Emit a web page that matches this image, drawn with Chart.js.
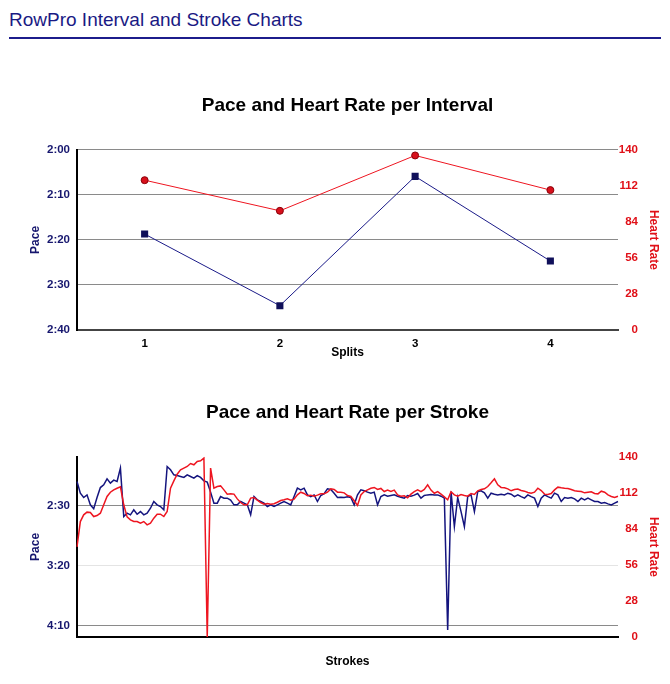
<!DOCTYPE html>
<html>
<head>
<meta charset="utf-8">
<script src="https://cdn.jsdelivr.net/npm/chart.js@4.4.0/dist/chart.umd.min.js"></script>
<style>
  body { margin: 0; background: #fff; width: 670px; height: 684px; overflow: hidden; position: relative;
         font-family: "Liberation Sans", Arial, sans-serif; }
  #head { position: absolute; left: 9px; top: 10px; width: 652px; font-size: 19px; line-height: 20px;
          color: #1a1a84; border-bottom: 2px solid #1c1c8c; padding-bottom: 7px; }
  .box { position: absolute; left: 0; }
</style>
</head>
<body>
<div id="head">RowPro Interval and Stroke Charts</div>
<canvas id="interval" class="box" style="top:60px" width="670" height="310"></canvas>
<canvas id="stroke" class="box" style="top:370px" width="670" height="314"></canvas>
<script>
// interval chart data (pace in seconds per 500m, heart rate in bpm)
const splits = ['1', '2', '3', '4'];
const splitPace = [138.7, 154.6, 125.9, 144.7];
const splitHeartRate = [116.4, 92.6, 135.6, 108.7];

// stroke chart data, one value per stroke
const strokePace = [
  130.0, 139.8, 143.4, 141.2, 149.5, 152.8, 143.4, 135.1, 132.8, 127.8, 131.4, 128.9, 130.0, 118.9,
  159.2, 156.4, 157.8, 153.7, 157.3, 155.1, 157.8, 156.4, 152.3, 146.7, 149.5, 150.9, 153.7, 117.6,
  120.3, 124.5, 125.1, 125.9, 126.7, 124.5, 125.9, 127.3, 125.1, 126.7, 129.5, 130.6, 138.9, 148.1,
  148.1, 142.6, 143.9, 143.9, 145.6, 149.5, 149.5, 146.7, 148.1, 149.5, 157.8, 142.6, 145.3, 146.7,
  148.1, 150.9, 149.5, 150.9, 149.5, 148.1, 146.7, 148.1, 149.5, 142.6, 135.6, 137.0, 135.6, 141.2,
  142.6, 141.2, 146.7, 141.7, 140.1, 136.2, 136.7, 139.8, 143.4, 143.1, 143.4, 142.8, 143.4,
  149.5, 141.2, 137.0, 137.8, 138.9, 139.8, 138.9, 149.5, 142.6, 141.2, 142.3, 141.7, 141.2, 142.3,
  143.1, 143.9, 141.7, 142.3, 141.4, 140.1, 143.9, 141.7, 141.2, 140.9, 141.2, 141.2, 142.3, 143.9,
  253.7, 138.4, 167.6, 143.4, 155.1, 167.6, 142.6, 141.2, 155.1, 138.4, 137.8, 139.5,
  143.9, 139.8, 140.6, 141.2, 140.6, 141.2, 139.8, 140.6, 142.6, 141.2, 142.6, 143.9, 141.2, 142.6,
  143.9, 150.9, 143.9, 141.2, 142.6, 143.9, 139.8, 141.2, 146.7, 143.4, 143.9, 143.4, 144.5, 146.7,
  143.9, 145.3, 143.9, 145.3, 146.7, 146.7, 148.1, 147.6, 148.7, 149.5, 148.1, 146.7
];
const strokeHeartRate = [
  70.0, 89.7, 94.9, 97.0, 96.7, 93.6, 94.4, 96.2, 102.7, 109.2, 112.5, 114.3, 115.6, 116.7,
  102.7, 93.3, 91.0, 89.7, 89.7, 88.4, 89.7, 87.1, 88.4, 92.3, 95.4, 95.4, 93.6, 97.5,
  115.6, 121.3, 126.5, 129.9, 131.2, 132.5, 134.8, 133.8, 136.4, 136.9, 139.0, 0, 131.2, 115.6,
  116.9, 117.4, 114.3, 111.0, 111.2, 111.0, 107.3, 104.5, 102.7, 102.7, 107.9, 108.4, 106.3, 104.5,
  103.2, 103.7, 103.2, 103.5, 104.7, 106.0, 106.6, 107.3, 106.3, 107.1, 110.4, 112.5, 111.5, 109.7,
  110.2, 109.4, 110.2, 111.2, 111.2, 112.5, 115.1, 114.6, 112.5, 112.5, 112.0, 109.9, 109.2,
  105.8, 102.2, 110.4, 113.0, 114.3, 115.6, 116.2, 114.6, 115.4, 113.0, 114.1, 113.0, 114.1, 110.4,
  109.4, 109.7, 108.1, 111.0, 113.0, 114.3, 113.0, 114.6, 118.2, 114.1, 111.7, 113.0, 111.0, 108.9,
  106.6, 112.8, 110.4, 109.4, 110.7, 109.9, 109.4, 111.5, 110.7, 113.6, 114.6, 115.1,
  116.9, 119.8, 122.9, 118.2, 116.2, 115.9, 115.1, 113.6, 114.6, 114.9, 113.8, 113.3, 112.3, 111.7,
  112.5, 115.6, 113.8, 111.0, 110.7, 111.5, 114.3, 116.4, 115.9, 115.6, 115.4, 114.6, 113.6, 113.3,
  113.0, 112.0, 112.5, 112.8, 111.5, 111.2, 113.3, 112.5, 110.4, 109.2, 108.4, 109.4
];
const strokes = strokePace.map((v, i) => String(i + 1));
const strokePaceTicks = [150, 200, 250];

const NAVY = '#1a1a88';
const RED = '#ee1520';
const TEXT_NAVY = '#16166e';
const TEXT_RED = '#e01018';
const tickFont = { size: 11.5, weight: 'bold' };
const axisFont = { size: 12, weight: 'bold' };

Chart.defaults.font.family = '"Liberation Sans", Arial, sans-serif';

function paceLabel(value) {
  const m = Math.floor(value / 60);
  const s = Math.round(value - m * 60);
  return m + ':' + String(s).padStart(2, '0');
}

const LAYOUT = { padding: { left: 0, right: 32, top: 0, bottom: 0 } };

// Pace and heart rate per interval
new Chart(document.getElementById('interval'), {
  type: 'line',
  data: {
    labels: splits,
    datasets: [
      {
        label: 'Heart Rate', data: splitHeartRate, yAxisID: 'hr', order: 0,
        borderColor: RED, borderWidth: 1, pointStyle: 'circle', pointRadius: 3.5,
        pointBackgroundColor: '#d8101c', pointBorderColor: '#8a0008', pointBorderWidth: 1
      },
      {
        label: 'Pace', data: splitPace, yAxisID: 'pace', order: 1,
        borderColor: NAVY, borderWidth: 1, pointStyle: 'rect', pointRadius: 5,
        pointBackgroundColor: '#10105a', pointBorderColor: '#10105a', pointBorderWidth: 0
      }
    ]
  },
  options: {
    responsive: false,
    animation: false,
    layout: LAYOUT,
    plugins: {
      legend: { display: false },
      tooltip: { enabled: false },
      title: {
        display: true, fullSize: false, text: 'Pace and Heart Rate per Interval', color: '#000',
        font: { size: 19, weight: 'bold' }, padding: { top: 34, bottom: 33 }
      }
    },
    scales: {
      x: {
        offset: true,
        grid: { display: false, drawTicks: false },
        border: { color: '#444', width: 2 },
        ticks: { color: '#000', font: tickFont, padding: 7 },
        title: { display: true, text: 'Splits', color: '#000', font: axisFont, padding: { top: 0, bottom: 10 } },
        afterFit: s => { s.height = 40; }
      },
      pace: {
        position: 'left', reverse: true, min: 120, max: 160,
        ticks: { stepSize: 10, callback: paceLabel, color: TEXT_NAVY, font: tickFont, padding: 7 },
        grid: { color: '#8a8a8a', drawTicks: false },
        border: { color: '#000', width: 2 },
        title: { display: true, text: 'Pace', color: TEXT_NAVY, font: axisFont, padding: { top: 28, bottom: 0 } },
        afterFit: s => { s.width = 77; }
      },
      hr: {
        position: 'right', min: 0, max: 140,
        ticks: { stepSize: 28, color: TEXT_RED, font: tickFont, crossAlign: 'far' },
        grid: { display: false, drawTicks: false },
        border: { display: false },
        title: { display: true, text: 'Heart Rate', color: TEXT_RED, font: axisFont, padding: { top: -23, bottom: 0 } },
        afterFit: s => { s.width = 20; }
      }
    }
  }
});

// Pace and heart rate per stroke
new Chart(document.getElementById('stroke'), {
  type: 'line',
  data: {
    labels: strokes,
    datasets: [
      {
        label: 'Heart Rate', data: strokeHeartRate, yAxisID: 'hr', order: 0,
        borderColor: RED, borderWidth: 1.5, pointRadius: 0, tension: 0
      },
      {
        label: 'Pace', data: strokePace, yAxisID: 'pace', order: 1,
        borderColor: '#14147e', borderWidth: 1.5, pointRadius: 0, tension: 0
      }
    ]
  },
  options: {
    responsive: false,
    animation: false,
    layout: LAYOUT,
    plugins: {
      legend: { display: false },
      tooltip: { enabled: false },
      title: {
        display: true, fullSize: false, text: 'Pace and Heart Rate per Stroke', color: '#000',
        font: { size: 19, weight: 'bold' }, padding: { top: 31, bottom: 33 }
      }
    },
    scales: {
      x: {
        grid: { display: false, drawTicks: false },
        border: { color: '#000', width: 2 },
        ticks: { display: false },
        title: { display: true, text: 'Strokes', color: '#000', font: axisFont, padding: { top: 0, bottom: 15 } },
        afterFit: s => { s.height = 47; }
      },
      pace: {
        position: 'left', reverse: true, min: 109.5, max: 259.5,
        afterBuildTicks: s => { s.ticks = strokePaceTicks.map(v => ({ value: v })); },
        ticks: { callback: paceLabel, color: TEXT_NAVY, font: tickFont, padding: 7 },
        grid: {
          drawTicks: false,
          color: ctx => (ctx.tick && ctx.tick.value === 200 ? '#e4e4e4' : '#8a8a8a')
        },
        border: { color: '#000', width: 2 },
        title: { display: true, text: 'Pace', color: TEXT_NAVY, font: axisFont, padding: { top: 28, bottom: 0 } },
        afterFit: s => { s.width = 77; }
      },
      hr: {
        position: 'right', min: 0, max: 140,
        ticks: { stepSize: 28, color: TEXT_RED, font: tickFont, crossAlign: 'far' },
        grid: { display: false, drawTicks: false },
        border: { display: false },
        title: { display: true, text: 'Heart Rate', color: TEXT_RED, font: axisFont, padding: { top: -23, bottom: 0 } },
        afterFit: s => { s.width = 20; }
      }
    }
  }
});
</script>
</body>
</html>
